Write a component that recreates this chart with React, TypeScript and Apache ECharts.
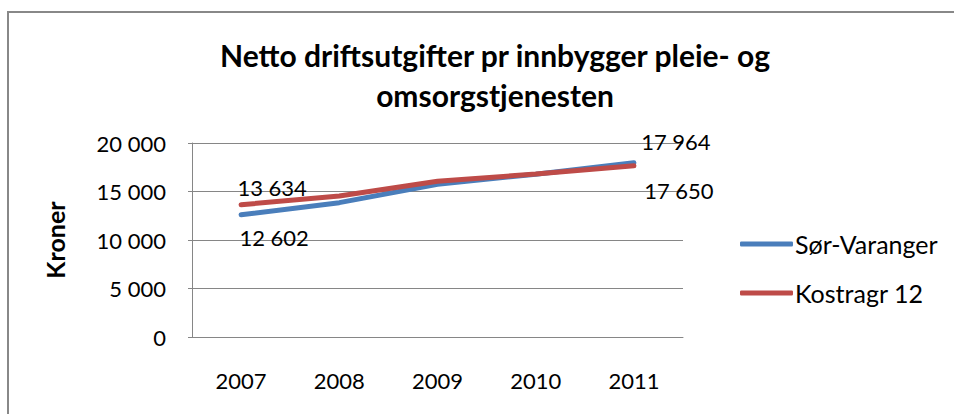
import React, { useEffect, useRef } from "react";
import * as echarts from "echarts";

const categories = ["2007", "2008", "2009", "2010", "2011"];
const sorVaranger = [12602, 13850, 15750, 16780, 17964];
const kostragr12 = [13634, 14540, 16050, 16800, 17650];
const seriesNames = ["Sør-Varanger", "Kostragr 12"];
const seriesColors = ["#4A7EBB", "#BE4B48"];
const yTicks = { min: 0, max: 20000, interval: 5000 };
const titleText = "Netto driftsutgifter pr innbygger pleie- og\nomsorgstjenesten";
const yAxisName = "Kroner";

const FONT = "Lato, Carlito, Calibri, sans-serif";
const fmt = (v: number) => String(v).replace(/\B(?=(\d{3})+(?!\d))/g, " ");

function withLabels(values: number[], firstOffset: number[], lastOffset: number[]) {
  return values.map((v, i) => {
    if (i === 0 || i === values.length - 1) {
      return {
        value: v,
        label: {
          show: true,
          position: "inside",
          align: "center",
          verticalAlign: "middle",
          offset: i === 0 ? firstOffset : lastOffset,
          formatter: (p: any) => fmt(p.value),
          color: "#000",
          fontFamily: FONT,
          fontSize: 22,
        },
      };
    }
    return { value: v };
  });
}

export default function App() {
  const ref = useRef<HTMLDivElement>(null);
  useEffect(() => {
    if (!ref.current) return;
    const chart = echarts.init(ref.current, undefined, { renderer: "svg" });
    chart.setOption({
      animation: false,
      backgroundColor: "#fff",
      title: {
        text: titleText,
        left: 490,
        top: 30,
        textAlign: "center",
        textStyle: {
          fontFamily: FONT,
          fontWeight: "bold",
          fontSize: 30,
          lineHeight: 40,
          color: "#000",
        },
      },
      graphic: [
        {
          type: "rect",
          shape: { x: 8, y: 12, width: 1100, height: 600 },
          style: { fill: "none", stroke: "#888888", lineWidth: 2 },
          silent: true,
        },
      ],
      legend: {
        orient: "vertical",
        left: 740,
        top: 230,
        padding: 0,
        itemWidth: 53,
        itemHeight: 5,
        itemGap: 21,
        icon: "roundRect",
        data: seriesNames.map((n, i) => ({ name: n, itemStyle: { color: seriesColors[i] } })),
        textStyle: { fontFamily: FONT, fontSize: 25, color: "#000", lineHeight: 28, padding: [0, 0, 0, -3] },
      },
      grid: { left: 192, right: 271, top: 143, bottom: 77, containLabel: false },
      xAxis: {
        type: "category",
        data: categories,
        boundaryGap: true,
        axisLine: { lineStyle: { color: "#868686", width: 1 } },
        axisTick: { show: false },
        axisLabel: { color: "#000", fontFamily: FONT, fontSize: 22, margin: 32 },
      },
      yAxis: {
        type: "value",
        min: yTicks.min,
        max: yTicks.max,
        interval: yTicks.interval,
        name: yAxisName,
        nameLocation: "middle",
        nameGap: 125,
        nameRotate: 90,
        nameTextStyle: { fontFamily: FONT, fontWeight: "bold", fontSize: 25, color: "#000" },
        axisLine: { show: true, lineStyle: { color: "#868686", width: 1 } },
        axisTick: { show: true, length: 4, lineStyle: { color: "#868686" } },
        splitLine: { lineStyle: { color: "#868686", width: 1 } },
        axisLabel: {
          color: "#000",
          fontFamily: FONT,
          fontSize: 22,
          margin: 26,
          formatter: (v: number) => fmt(v),
        },
      },
      series: [
        {
          name: seriesNames[0],
          type: "line",
          data: withLabels(sorVaranger, [33, 23], [42, -21]),
          symbol: "circle",
          symbolSize: 2,
          showSymbol: true,
          itemStyle: { color: seriesColors[0] },
          lineStyle: { color: seriesColors[0], width: 5, cap: "round" },
          z: 2,
        },
        {
          name: seriesNames[1],
          type: "line",
          data: withLabels(kostragr12, [31, -17], [45, 25]),
          symbol: "circle",
          symbolSize: 2,
          showSymbol: true,
          itemStyle: { color: seriesColors[1] },
          lineStyle: { color: seriesColors[1], width: 5, cap: "round" },
          z: 3,
        },
      ],
    });
    return () => chart.dispose();
  }, []);
  return (
    <div
      ref={ref}
      style={{ position: "absolute", left: 0, top: 0, width: 954, height: 414 }}
    />
  );
}
